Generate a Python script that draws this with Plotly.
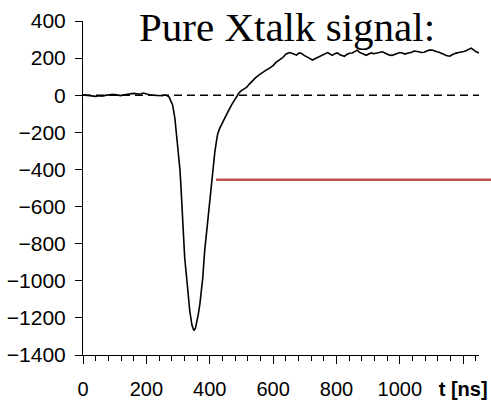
import plotly.graph_objects as go

# ---- data ----
t_ns = [0, 10, 20, 30, 40, 50, 60, 70, 80, 90, 100, 110, 120, 130, 140, 150, 160, 170, 180, 190,
        200, 210, 220, 230, 240, 250, 258, 265, 272, 278, 283, 290, 296, 300, 306, 309, 312, 316,
        321, 328, 337, 344, 350, 355, 359, 364, 369, 374, 378, 384, 389, 394, 400, 406, 411, 416,
        421, 425, 431, 438, 445, 453, 461, 469, 477, 485, 492, 500, 508, 516, 525, 535, 545, 556,
        567, 578, 589, 600, 610, 620, 630, 641, 652, 663, 674, 682, 690, 698, 705, 714, 724, 735,
        746, 755, 763, 772, 780, 787, 795, 803, 811, 819, 825, 833, 841, 850, 858, 866, 872, 880,
        887, 894, 902, 910, 918, 926, 935, 945, 953, 961, 968, 976, 984, 992, 1000, 1008, 1016,
        1024, 1030, 1038, 1045, 1052, 1060, 1068, 1077, 1085, 1093, 1102, 1110, 1117, 1124, 1132,
        1140, 1146, 1152, 1158, 1165, 1172, 1178, 1186, 1194, 1202, 1209, 1217, 1225, 1233, 1241,
        1250]
signal = [2, 0, -3, -2, -6, -3, -5, -1, 2, 4, 3, 1, -2, 3, 6, 5, 10, 8, 5, 12,
          6, 3, 0, -2, -1, -3, 1, -2, -10, -30, -54, -124, -216, -308, -400, -486, -580, -720,
          -876, -1000, -1162, -1240, -1268, -1255, -1225, -1180, -1124, -1050, -984, -840, -750, -676,
          -584, -470, -390, -308, -250, -210, -180, -158, -130, -105, -78, -52, -30, -8, 12, 25,
          34, 42, 60, 80, 95, 110, 124, 135, 146, 160, 178, 190, 202, 222, 230, 224, 216, 228,
          225, 215, 210, 200, 190, 200, 207, 218, 226, 230, 222, 215, 224, 228, 218, 212, 210,
          220, 226, 228, 236, 243, 232, 226, 220, 215, 222, 228, 224, 228, 232, 234, 228, 222,
          216, 215, 220, 226, 230, 228, 222, 226, 228, 232, 238, 238, 234, 230, 232, 238, 243,
          244, 238, 234, 232, 228, 220, 214, 212, 210, 218, 224, 227, 230, 232, 236, 240, 248,
          254, 244, 234, 228]

zero_x = [0, 1250]
zero_y = [0, 0]

red_x = [420, 1290]   # horizontal reference level, extends past the axis end
red_y = -455

x_range = [0, 1250]
y_range = [-1400, 400]
x_tickvals = [0, 200, 400, 600, 800, 1000, 1200]
x_ticktext = ["0", "200", "400", "600", "800", "1000", "<b>t [ns]</b>"]
y_tickvals = [400, 200, 0, -200, -400, -600, -800, -1000, -1200, -1400]

title_text = "Pure Xtalk signal:"

# ---- figure ----
fig = go.Figure()
fig.add_trace(go.Scatter(x=zero_x, y=zero_y, mode="lines",
                         line=dict(color="black", width=1.6, dash="8px,5px"),
                         hoverinfo="skip", showlegend=False))
fig.add_trace(go.Scatter(x=t_ns, y=signal, mode="lines",
                         line=dict(color="black", width=1.6),
                         showlegend=False))

span = x_range[1] - x_range[0]
fig.add_shape(type="line", xref="paper", yref="y",
              x0=(red_x[0] - x_range[0]) / span, x1=(red_x[1] - x_range[0]) / span,
              y0=red_y, y1=red_y,
              line=dict(color="#C0504D", width=2.5))

fig.add_annotation(text=title_text, xref="paper", yref="paper",
                   x=0.514, y=0.982, xanchor="center", yanchor="middle",
                   showarrow=False,
                   font=dict(family="Liberation Serif", size=41, color="black"))

fig.update_layout(
    width=491, height=401, autosize=False,
    margin=dict(l=83, r=12, t=21, b=46),
    paper_bgcolor="white", plot_bgcolor="white",
    font=dict(family="Liberation Sans", size=20, color="black"),
    showlegend=False,
)
fig.update_xaxes(range=x_range, tickmode="array", tickvals=x_tickvals, ticktext=x_ticktext,
                 showline=True, linecolor="black", linewidth=1,
                 ticks="outside", ticklen=8, tickwidth=1, tickcolor="black",
                 minor=dict(tickmode="linear", tick0=0, dtick=40, ticks="outside",
                            ticklen=5, tickwidth=1, tickcolor="black", showgrid=False),
                 ticklabelstandoff=8, automargin=False,
                 showgrid=False, zeroline=False,
                 tickfont=dict(family="Liberation Sans", size=20, color="black"))
fig.update_yaxes(range=y_range, tickmode="array", tickvals=y_tickvals,
                 showline=True, linecolor="black", linewidth=1,
                 ticks="outside", ticklen=7, tickwidth=1, tickcolor="black",
                 ticklabelstandoff=5, automargin=False,
                 showgrid=False, zeroline=False,
                 tickfont=dict(family="Liberation Sans", size=21, color="black"))

fig.write_html("out.html")
